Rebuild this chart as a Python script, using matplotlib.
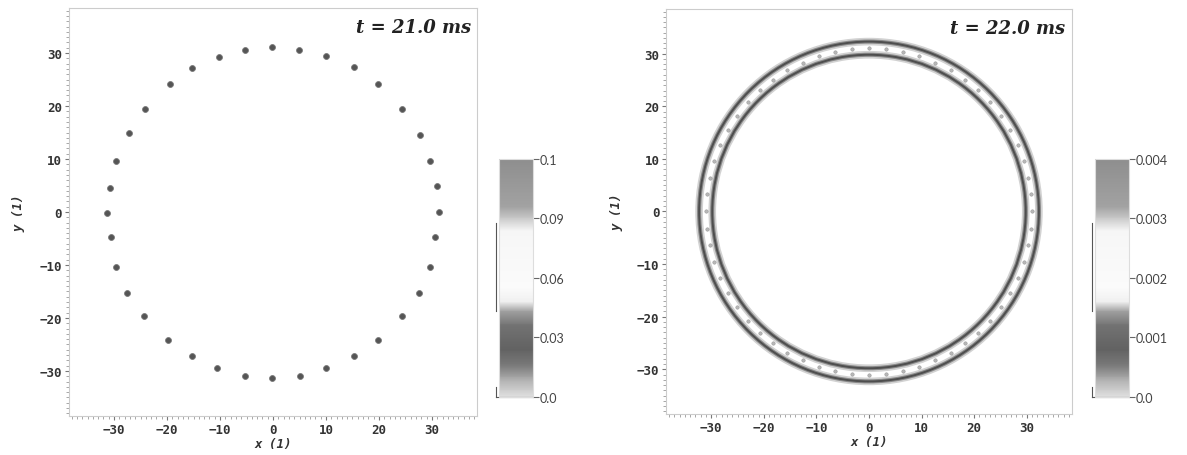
import matplotlib
matplotlib.use("Agg")
import matplotlib.pyplot as plt
import numpy as np
from matplotlib.colors import LinearSegmentedColormap, Normalize
from matplotlib.cm import ScalarMappable
from matplotlib.patches import Circle
from matplotlib.ticker import MultipleLocator

# left panel: droplet positions (x, y)
dots_x = [31.3, 31.0, 29.6, 27.8, 24.4, 19.8, 15.3, 10.0, 4.9,
          -0.2, -5.2, -10.1, -15.2, -19.5, -24.2, -27.2, -29.6, -30.8,
          -31.3, -30.6, -29.6, -27.6, -24.4, -19.8, -15.3, -10.5, -5.2,
          -0.2, 5.1, 10.0, 15.3, 19.8, 24.4, 27.6, 29.6, 30.6]
dots_y = [0.0, 4.9, 9.6, 14.6, 19.5, 24.2, 27.4, 29.5, 30.6,
          31.1, 30.6, 29.3, 27.2, 24.2, 19.5, 15.0, 9.6, 4.5,
          -0.2, -4.8, -10.3, -15.2, -19.6, -24.2, -27.2, -29.5, -31.0,
          -31.3, -31.0, -29.5, -27.2, -24.2, -19.6, -15.2, -10.3, -4.8]

# right panel: ring
ring_outer = 32.3
ring_inner = 29.8
bead_radius = 31.0
n_beads = 60

titles = ["t = 21.0 ms", "t = 22.0 ms"]
cbar_max = [0.12, 0.004]
cbar_ticks = [[0.0, 0.03, 0.06, 0.09, 0.12], [0.0, 0.001, 0.002, 0.003, 0.004]]
cbar_labels = [["0.0", "0.03", "0.06", "0.09", "0.1"],
               ["0.0", "0.001", "0.002", "0.003", "0.004"]]

cmap = LinearSegmentedColormap.from_list("banded", [
    (0.0, "#dedede"), (0.06, "#b8b8b8"), (0.13, "#7a7a7a"), (0.2, "#626262"),
    (0.3, "#727272"), (0.36, "#a0a0a0"), (0.40, "#f0f0f0"), (0.46, "#fbfbfb"),
    (0.70, "#f6f6f6"), (0.75, "#cacaca"), (0.8, "#a2a2a2"), (1.0, "#8e8e8e")])

tick_font = dict(family="DejaVu Sans Mono", weight="bold", size=9)

fig = plt.figure(figsize=(11.87, 4.56), dpi=100)
ax1 = fig.add_axes([0.0573, 0.0855, 0.3454, 0.8948])
ax2 = fig.add_axes([0.5586, 0.0899, 0.3470, 0.8882])
cax1 = fig.add_axes([0.4204, 0.1272, 0.0286, 0.522])
cax2 = fig.add_axes([0.9225, 0.1272, 0.0286, 0.522])

# left: scattered droplets
ax1.scatter(dots_x, dots_y, s=18, color="#555555", edgecolors="#7a7a7a", linewidths=0.6, zorder=3)

# right: ring with beads, soft dark bands
for r in (ring_outer, ring_inner):
    ax2.add_patch(Circle((0, 0), r, fill=False, edgecolor="#d2d2d2", linewidth=5.5))
    ax2.add_patch(Circle((0, 0), r, fill=False, edgecolor="#8a8a8a", linewidth=3.0))
    ax2.add_patch(Circle((0, 0), r, fill=False, edgecolor="#4e4e4e", linewidth=1.4))
ang = np.linspace(0, 2 * np.pi, n_beads, endpoint=False)
ax2.scatter(bead_radius * np.cos(ang), bead_radius * np.sin(ang), s=6,
            color="#b8b8b8", edgecolors="#9a9a9a", linewidths=0.4, zorder=3)

for ax, title in zip((ax1, ax2), titles):
    ax.set_xlim(-38.5, 38.5)
    ax.set_ylim(-38.5, 38.5)
    ax.set_aspect("equal")
    ax.set_xticks([-30, -20, -10, 0, 10, 20, 30])
    ax.set_yticks([-30, -20, -10, 0, 10, 20, 30])
    ax.xaxis.set_minor_locator(MultipleLocator(1))
    ax.yaxis.set_minor_locator(MultipleLocator(1))
    ax.tick_params(which="major", length=3, width=0.8, color="#777777", pad=2)
    ax.tick_params(which="minor", length=2, width=0.6, color="#999999")
    for lab in ax.get_xticklabels() + ax.get_yticklabels():
        lab.set_fontproperties(tick_font)
        lab.set_color("#333333")
    for sp in ax.spines.values():
        sp.set_color("#cccccc")
    ax.set_xlabel("x (1)", fontfamily="DejaVu Sans Mono", fontweight="bold",
                  fontstyle="italic", fontsize=9, color="#333333", labelpad=1)
    ax.set_ylabel("y (1)", fontfamily="DejaVu Sans Mono", fontweight="bold",
                  fontstyle="italic", fontsize=9, color="#333333", labelpad=10)
    ax.text(0.985, 0.975, title, transform=ax.transAxes, ha="right", va="top",
            fontfamily="DejaVu Serif", fontweight="bold", fontstyle="italic",
            fontsize=13, color="#222222")

for cax, vmax, ticks, labels in zip((cax1, cax2), cbar_max, cbar_ticks, cbar_labels):
    sm = ScalarMappable(norm=Normalize(0, vmax), cmap=cmap)
    cb = fig.colorbar(sm, cax=cax)
    cb.outline.set_edgecolor("#dddddd")
    cb.set_ticks(ticks)
    cb.set_ticklabels(labels)
    cax.tick_params(length=4, width=0.8, color="#666666", pad=1)
    for lab in cax.get_yticklabels():
        lab.set_fontfamily("Lato")
        lab.set_fontsize(9)
        lab.set_color("#444444")
    # partial bracket on the left side of the bar
    cax.plot([-0.08, -0.08], [0.36, 0.73], transform=cax.transAxes, color="#555555",
             lw=0.8, clip_on=False)
    cax.plot([-0.08, 1.0], [0.0, 0.0], transform=cax.transAxes, color="#555555",
             lw=0.8, clip_on=False)
    cax.plot([-0.08, -0.08], [0.0, 0.04], transform=cax.transAxes, color="#555555",
             lw=0.8, clip_on=False)

fig.savefig("out.png", dpi=100)
